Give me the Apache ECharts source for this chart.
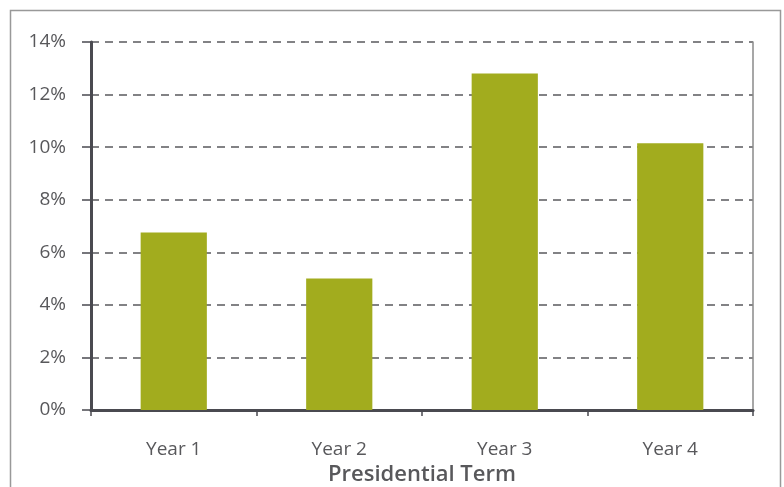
<!DOCTYPE html>
<html>
<head>
<meta charset="utf-8">
<script src="https://cdn.jsdelivr.net/npm/echarts@6/dist/echarts.min.js"></script>
<style>
  html, body { margin: 0; padding: 0; background: #fff; }
  #chart { width: 784px; height: 487px; }
</style>
</head>
<body>
<div id="chart"></div>
<script>
  // data
  var categories = ['Year 1', 'Year 2', 'Year 3', 'Year 4']
  var returns = [6.75, 5.0, 12.8, 10.15]

  var textColor = '#58585b'
  var axisDark = '#4a4a50'
  var font = 'Open Sans'

  var chart = echarts.init(document.getElementById('chart'))
  var option = {
    animation: false,
    grid: {
      left: 91,
      right: 31,
      top: 42,
      bottom: 77,
      outerBoundsMode: 'none',
      containLabel: false
    },
    graphic: [{
      type: 'rect',
      shape: { x: 10.5, y: 10.5, width: 770, height: 520 },
      style: { fill: 'none', stroke: '#999999', lineWidth: 1.5 },
      silent: true
    }],
    xAxis: {
      type: 'category',
      data: categories,
      name: 'Presidential Term',
      nameLocation: 'middle',
      nameGap: 51,
      nameTextStyle: {
        fontFamily: font,
        fontWeight: 600,
        fontSize: 22,
        color: textColor
      },
      axisLine: { lineStyle: { color: axisDark, width: 3 } },
      axisTick: { show: true, length: 6, lineStyle: { color: axisDark, width: 1.5 } },
      axisLabel: {
        margin: 30,
        fontFamily: font,
        fontSize: 19,
        color: textColor
      }
    },
    yAxis: [{
      type: 'value',
      min: 0,
      max: 14,
      interval: 2,
      axisLine: { show: true, lineStyle: { color: axisDark, width: 3 } },
      axisTick: { show: true, length: 9, lineStyle: { color: axisDark, width: 1.5 } },
      axisLabel: {
        margin: 25,
        fontFamily: font,
        fontSize: 19,
        color: textColor,
        formatter: '{value}%'
      },
      splitLine: {
        lineStyle: { color: '#5a5a5e', width: 1.5, type: [8, 6] }
      }
    }, {
      type: 'value',
      position: 'right',
      min: 0,
      max: 14,
      interval: 2,
      axisLine: { show: true, lineStyle: { color: '#8a8a8a', width: 1.5 } },
      axisTick: { show: false },
      axisLabel: { show: false },
      splitLine: { show: false }
    }],
    series: [{
      type: 'bar',
      data: returns,
      barWidth: '40%',
      itemStyle: { color: '#a2ac1e' }
    }]
  }
  chart.setOption(option)
</script>
</body>
</html>
